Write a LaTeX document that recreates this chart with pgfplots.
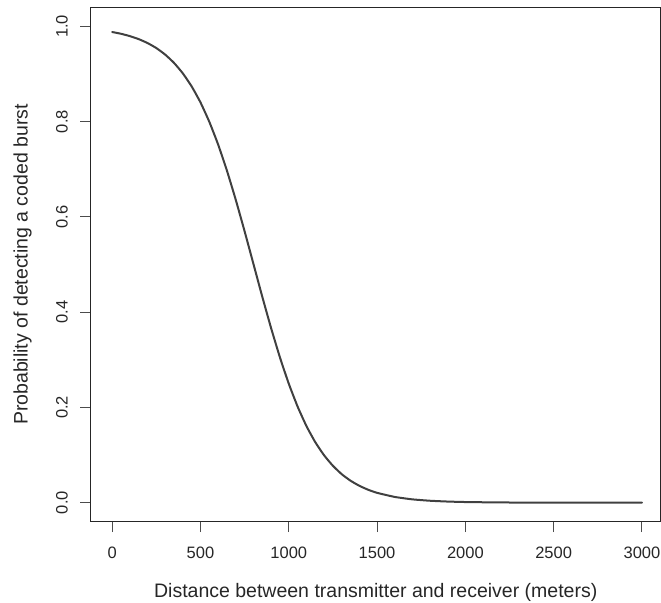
\documentclass[border=0pt]{standalone}
\usepackage{fontspec}
\setmainfont{Liberation Sans}
\usepackage{pgfplots}
\pgfplotsset{compat=1.18}
\usepackage{pgfplotstable}
\pgfplotstableread{
x p
0 0.9881
50 0.9844
100 0.9795
150 0.9732
200 0.9650
250 0.9544
300 0.9407
350 0.9233
400 0.9013
450 0.8739
500 0.8403
550 0.7996
600 0.7518
650 0.6968
700 0.6355
750 0.5695
800 0.5010
850 0.4323
900 0.3663
950 0.3049
1000 0.2497
1050 0.2017
1100 0.1608
1150 0.1270
1200 0.0994
1250 0.0773
1300 0.0597
1350 0.0460
1400 0.0353
1450 0.0270
1500 0.0206
1600 0.0120
1700 0.0069
1800 0.0040
1900 0.0023
2000 0.0013
2200 0.0004
2400 0.00015
2600 0.00005
2800 0.00002
3000 0.00001
}\curvedata
\begin{document}
\begin{tikzpicture}
\begin{axis}[
  scale only axis,
  width=569.5bp, height=514.4bp,
  xmin=-120, xmax=3105,
  ymin=-0.04, ymax=1.04,
  axis line style={black!85, line width=1bp},
  tick align=outside,
  major tick length=10.5bp,
  tick style={black!70, line width=1bp},
  xtick={0,500,1000,1500,2000,2500,3000},
  ytick={0,0.2,0.4,0.6,0.8,1},
  xtick pos=bottom, ytick pos=left,
  /pgf/number format/assume math mode=true,
  xticklabel style={/pgf/number format/1000 sep={}, anchor=base, yshift=-26bp},
  yticklabel style={/pgf/number format/fixed, /pgf/number format/fixed zerofill, /pgf/number format/precision=1, xshift=-12.8bp, rotate=90, anchor=base},
  ticklabel style={font=\fontsize{16.5bp}{18bp}\selectfont, text=black!85},
  every axis x label/.style={at={(axis description cs:0.5,0)}, yshift=-76bp, anchor=base, font=\fontsize{19.5bp}{22bp}\selectfont, text=black!85},
  every axis y label/.style={at={(axis description cs:0,0.5)}, xshift=-63.3bp, rotate=90, anchor=base, font=\fontsize{19.5bp}{22bp}\selectfont, text=black!85},
  xlabel={Distance between transmitter and receiver (meters)},
  ylabel={Probability of detecting a coded burst},
]
\addplot[black!75, line width=2bp, line cap=round, line join=round, smooth, tension=0.3] table[x=x, y=p] {\curvedata};
\end{axis}
\pgfresetboundingbox
\path[use as bounding box] ([xshift=-91bp, yshift=7.3bp]current axis.north west) rectangle ([xshift=0.5bp, yshift=-81.3bp]current axis.south east);
\end{tikzpicture}
\end{document}
